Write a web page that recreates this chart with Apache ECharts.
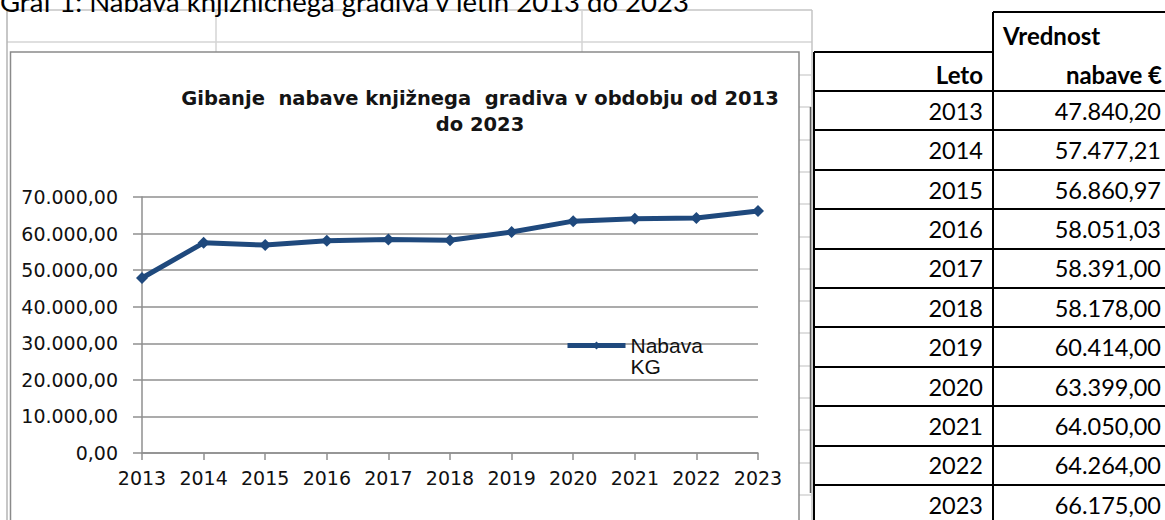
<!DOCTYPE html>
<html>
<head>
<meta charset="utf-8">
<title>Nabava knjižničnega gradiva 2013 do 2023</title>
<script src="https://cdn.jsdelivr.net/npm/echarts@6/dist/echarts.min.js"></script>
<style>
  html, body { margin: 0; padding: 0; background: #fff; }
  #main { width: 1165px; height: 520px; }
</style>
</head>
<body>
<div id="main"></div>
<script>
// podatki
var years = ['2013', '2014', '2015', '2016', '2017', '2018', '2019', '2020', '2021', '2022', '2023'];
var nabava = [47840.20, 57477.21, 56860.97, 58051.03, 58391.00, 58178.00, 60414.00, 63399.00, 64050.00, 64264.00, 66175.00];
var seriesName = 'Nabava KG';
var caption = 'Graf 1: Nabava knjižničnega gradiva v letih 2013 do 2023';
var chartTitle = ['Gibanje  nabave knjižnega  gradiva v obdobju od 2013', 'do 2023'];
var headLeto = 'Leto';
var headValue = ['Vrednost', 'nabave €'];

var navy = '#1F497D';
var gridGray = '#8f8f8f';
var sheetGray = '#d4d4d4';

// 47840.2 -> "47.840,20"
function fmtNum(v) {
  var p = Number(v).toFixed(2).split('.');
  return p[0].replace(/\B(?=(\d{3})+(?!\d))/g, '.') + ',' + p[1];
}

function line(x1, y1, x2, y2, color, w) {
  return {
    type: 'line', silent: true,
    shape: { x1: x1, y1: y1, x2: x2, y2: y2 },
    style: { stroke: color, lineWidth: w }
  };
}

function text(x, y, str, font, align) {
  return {
    type: 'text', silent: true, x: x, y: y,
    style: {
      text: str, font: font, fill: '#000',
      align: align, textAlign: align,
      verticalAlign: 'middle', textVerticalAlign: 'middle'
    }
  };
}

var gfx = [];

// ozadje preglednice (mreza Excela)
gfx.push(line(7, 10, 812, 10, '#c4c4c4', 1.5));
gfx.push(line(7, 42, 812, 42, sheetGray, 1.5));
gfx.push(line(216, 10, 216, 52, sheetGray, 1.5));
gfx.push(line(582, 10, 582, 52, sheetGray, 1.5));
gfx.push(line(7, 10, 7, 520, '#b4b4b4', 1.5));
gfx.push(line(812, 10, 812, 520, '#c4c4c4', 1.5));
for (var gy = 75; gy < 520; gy += 32.3) {
  gfx.push(line(799, Math.round(gy), 811, Math.round(gy), sheetGray, 1.5));
}
gfx.push(line(810.5, 107, 810.5, 493, '#555', 1.5));

// okvir grafa
gfx.push({
  type: 'rect', silent: true,
  shape: { x: 10.5, y: 52, width: 788.5, height: 490 },
  style: { fill: 'none', stroke: '#8a8a8a', lineWidth: 1.5 }
});

// napis nad grafom (odrezan zgoraj kot v izvirniku)
gfx.push(text(0, 1, caption, '27.5px Lato', 'left'));

// naslov grafa
gfx.push({
  type: 'text', silent: true, x: 480, y: 85,
  style: {
    text: chartTitle.join('\n'), font: 'bold 19.5px "DejaVu Sans"', fill: '#141414',
    lineHeight: 26.5, align: 'center', textAlign: 'center',
    verticalAlign: 'top', textVerticalAlign: 'top'
  }
});

// tabela
var tLeft = 814, tMid = 993, tRight = 1165;
var rowTop = 91, rowH = 39.4;
gfx.push(line(tLeft, 52, tMid, 52, '#000', 2));
gfx.push(line(tMid, 12, tRight, 12, '#000', 2));
gfx.push(line(tLeft, 52, tLeft, 520, '#000', 2));
gfx.push(line(tMid, 12, tMid, 520, '#000', 2));
for (var k = 0; k <= years.length; k++) {
  var ly = Math.round(rowTop + rowH * k);
  gfx.push(line(tLeft, ly, tRight, ly, '#000', 2));
}
gfx.push(text(1003, 35.5, headValue[0], 'bold 24px Lato', 'left'));
gfx.push(text(1162, 74, headValue[1], 'bold 24px Lato', 'right'));
gfx.push(text(983, 74, headLeto, 'bold 24px Lato', 'right'));
years.forEach(function (yr, i) {
  var cy = rowTop + rowH * i + rowH / 2;
  gfx.push(text(983, cy, yr, '23.5px Lato', 'right'));
  gfx.push(text(1161, cy, fmtNum(nabava[i]), '23.5px Lato', 'right'));
});

var chart = echarts.init(document.getElementById('main'), null, { renderer: 'svg' });

var option = {
  animation: false,
  backgroundColor: '#fff',
  grid: { left: 142, right: 407, top: 197, bottom: 67 },
  legend: {
    data: [seriesName],
    left: 565,
    top: 314,
    padding: 0,
    itemWidth: 58,
    itemHeight: 10,
    lineStyle: { width: 5 },
    // prazna prva vrstica: "Nabava" ostane v isti visini kot crta
    formatter: function (name) { return '\n' + name.replace(' ', '\n'); },
    textStyle: {
      fontFamily: '"Liberation Sans", Arial, sans-serif',
      fontSize: 21,
      color: '#111',
      lineHeight: 21
    }
  },
  xAxis: {
    type: 'category',
    data: years,
    boundaryGap: false,
    axisLine: { lineStyle: { color: gridGray, width: 1.5 } },
    axisTick: { show: true, length: 7, lineStyle: { color: gridGray, width: 1.5 } },
    axisLabel: {
      interval: 0, margin: 15,
      fontFamily: '"DejaVu Sans", Verdana, sans-serif', fontSize: 19, color: '#111'
    },
    splitLine: { show: false }
  },
  yAxis: {
    type: 'value',
    min: 0, max: 70000, interval: 10000,
    axisLine: { show: true, lineStyle: { color: gridGray, width: 1.5 } },
    axisTick: { show: true, length: 9, lineStyle: { color: gridGray, width: 1.5 } },
    axisLabel: {
      margin: 24,
      fontFamily: '"DejaVu Sans", Verdana, sans-serif', fontSize: 19, color: '#111',
      formatter: function (v) { return fmtNum(v); }
    },
    splitLine: { show: true, lineStyle: { color: gridGray, width: 1.5 } }
  },
  series: [{
    name: seriesName,
    type: 'line',
    data: nabava,
    symbol: 'diamond',
    symbolSize: 12,
    lineStyle: { color: navy, width: 5 },
    itemStyle: { color: navy }
  }],
  graphic: { elements: gfx }
};

chart.setOption(option);
</script>
</body>
</html>
